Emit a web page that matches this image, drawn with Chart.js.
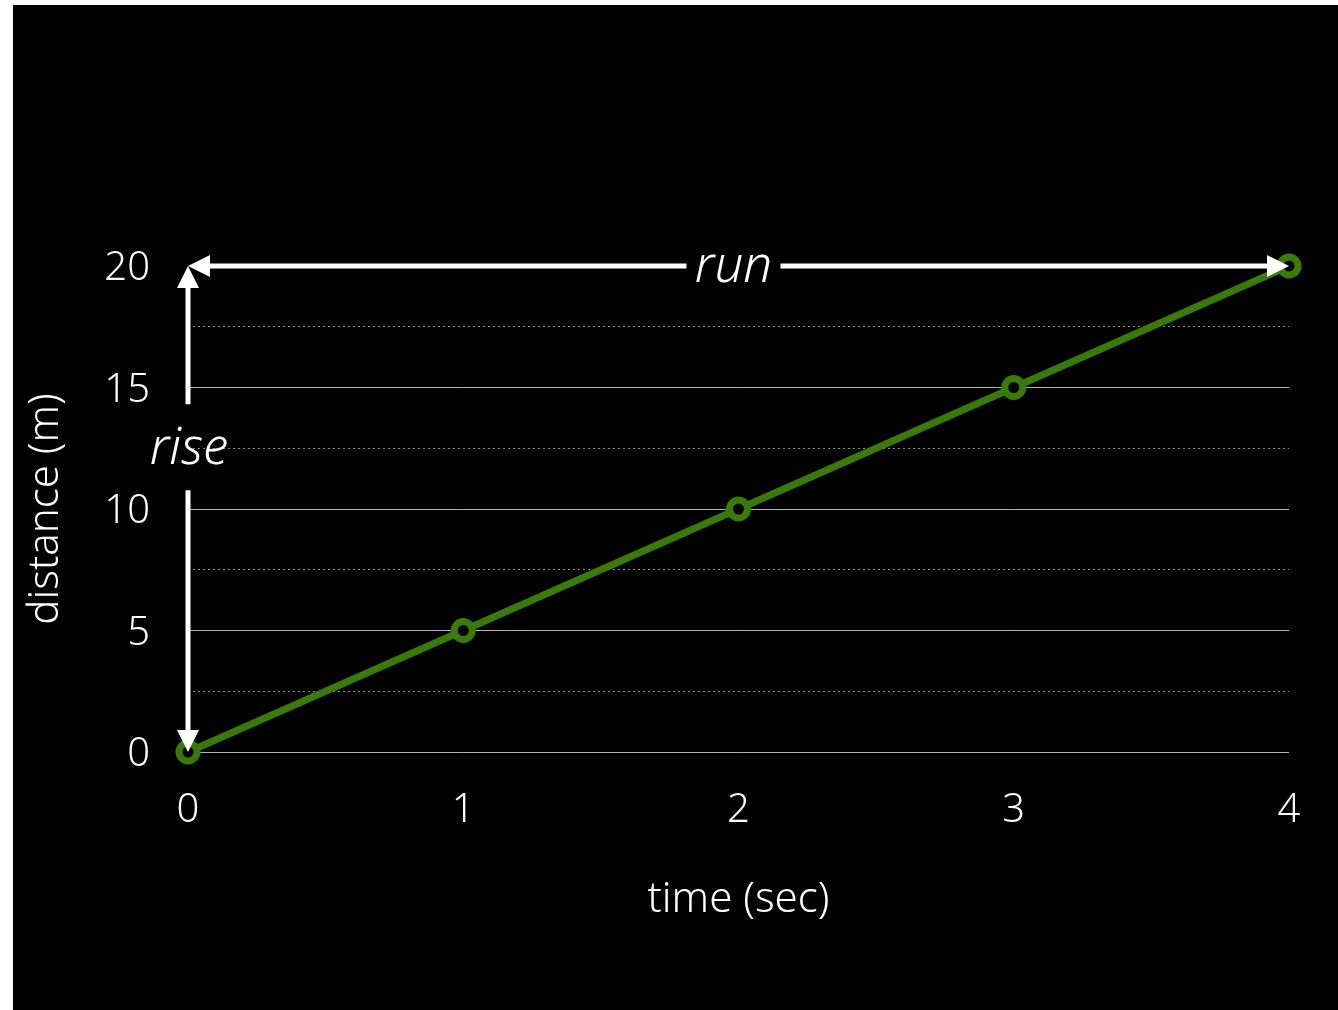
<!DOCTYPE html>
<html>
<head>
<meta charset="utf-8">
<script src="https://cdn.jsdelivr.net/npm/chart.js@4.4.1/dist/chart.umd.min.js"></script>
<style>
  html, body { margin: 0; padding: 0; background: #ffffff; }
  #wrap { position: absolute; left: 13px; top: 5px; width: 1325px; height: 1005px; background: #000000; }
  canvas { display: block; }
</style>
</head>
<body>
<div id="wrap"><canvas id="c" width="1325" height="1005"></canvas></div>
<script>
// ---- data ----
const times = [0, 1, 2, 3, 4];
const distances = [0, 5, 10, 15, 20];
const xTickValues = [0, 1, 2, 3, 4];
const yTickValues = [0, 5, 10, 15, 20];
const xTitle = 'time (sec)';
const yTitle = 'distance (m)';
const runLabel = 'run';
const riseLabel = 'rise';
const riseLabelValue = 12.5;

const FONT = '"Noto Sans", "Open Sans", sans-serif';
const GREEN = '#387c04';

function arrowHead(ctx, tx, ty, dir, len, half) {
  ctx.beginPath();
  ctx.moveTo(tx, ty);
  if (dir === 'up') { ctx.lineTo(tx - half, ty + len); ctx.lineTo(tx + half, ty + len); }
  if (dir === 'down') { ctx.lineTo(tx - half, ty - len); ctx.lineTo(tx + half, ty - len); }
  if (dir === 'left') { ctx.lineTo(tx + len, ty - half); ctx.lineTo(tx + len, ty + half); }
  if (dir === 'right') { ctx.lineTo(tx - len, ty - half); ctx.lineTo(tx - len, ty + half); }
  ctx.closePath();
  ctx.fill();
}

const arrowsPlugin = {
  id: 'riseRun',
  afterDatasetsDraw(chart) {
    const ctx = chart.ctx;
    const xs = chart.scales.x, ys = chart.scales.y;
    const x0 = xs.getPixelForValue(times[0]);
    const x1 = xs.getPixelForValue(times[times.length - 1]);
    const y0 = ys.getPixelForValue(distances[0]);
    const y1 = ys.getPixelForValue(distances[distances.length - 1]);
    ctx.save();
    ctx.strokeStyle = '#ffffff';
    ctx.fillStyle = '#ffffff';
    ctx.lineWidth = 5;
    const runCx = (x0 + x1) / 2 - 5;
    const runHalf = 47;
    ctx.beginPath();
    ctx.moveTo(x0 + 18, y1); ctx.lineTo(runCx - runHalf, y1);
    ctx.moveTo(runCx + runHalf, y1); ctx.lineTo(x1 - 18, y1);
    ctx.stroke();
    arrowHead(ctx, x0, y1, 'left', 22, 11);
    arrowHead(ctx, x1, y1, 'right', 22, 11);
    const riseCy = ys.getPixelForValue(riseLabelValue) - 1;
    const riseHalf = 43;
    ctx.beginPath();
    ctx.moveTo(x0, y1 + 18); ctx.lineTo(x0, riseCy - riseHalf);
    ctx.moveTo(x0, riseCy + riseHalf); ctx.lineTo(x0, y0 - 18);
    ctx.stroke();
    arrowHead(ctx, x0, y1, 'up', 22, 11);
    arrowHead(ctx, x0, y0, 'down', 22, 11);
    ctx.font = 'italic 300 51px ' + FONT;
    ctx.textAlign = 'center';
    ctx.textBaseline = 'middle';
    ctx.fillText(runLabel, runCx, y1 + 1);
    ctx.fillText(riseLabel, x0 + 1, riseCy + 2);
    ctx.restore();
  }
};

new Chart(document.getElementById('c'), {
  type: 'line',
  data: {
    datasets: [{
      data: times.map((t, i) => ({ x: t, y: distances[i] })),
      borderColor: GREEN,
      borderWidth: 7,
      pointRadius: 9,
      pointBorderWidth: 7,
      pointBorderColor: GREEN,
      pointBackgroundColor: '#000000',
      pointHoverRadius: 9,
      fill: false,
      tension: 0,
      clip: false
    }]
  },
  options: {
    responsive: false,
    animation: false,
    events: [],
    layout: { padding: { top: 261, right: 49, left: 0, bottom: 0 } },
    plugins: { legend: { display: false }, tooltip: { enabled: false } },
    scales: {
      x: {
        type: 'linear',
        min: 0, max: 4,
        afterFit(scale) { scale.height = 258; },
        afterBuildTicks(scale) { scale.ticks = xTickValues.map(v => ({ value: v })); },
        ticks: { color: '#ffffff', font: { family: FONT, size: 40, weight: 300 }, padding: 27 },
        grid: { display: false },
        border: { display: false },
        title: { display: true, text: xTitle, color: '#ffffff', font: { family: FONT, size: 42, weight: 300 }, padding: { bottom: 85 } }
      },
      y: {
        min: 0, max: 20,
        afterFit(scale) { scale.width = 175; },
        afterBuildTicks(scale) {
          const t = [];
          for (let i = 0; i < yTickValues.length; i++) {
            t.push({ value: yTickValues[i], major: true });
            if (i < yTickValues.length - 1) t.push({ value: (yTickValues[i] + yTickValues[i + 1]) / 2 });
          }
          scale.ticks = t;
        },
        ticks: {
          color: '#ffffff',
          font: { family: FONT, size: 40, weight: 300 },
          padding: 38,
          labelOffset: 3,
          callback: (v) => yTickValues.includes(v) ? String(v) : ''
        },
        grid: {
          drawTicks: false,
          lineWidth: 1,
          color: (c) => {
            const v = c.tick ? c.tick.value : null;
            if (v === 20) return 'rgba(0,0,0,0)';
            return yTickValues.includes(v) ? '#b4b4b4' : '#8a8a8a';
          }
        },
        border: { display: false, dash: (c) => (c.tick && !yTickValues.includes(c.tick.value)) ? [2, 3] : [] },
        title: { display: true, text: yTitle, color: '#ffffff', font: { family: FONT, size: 42, weight: 300 }, padding: { top: 8 } }
      }
    }
  },
  plugins: [arrowsPlugin]
});
</script>
</body>
</html>
